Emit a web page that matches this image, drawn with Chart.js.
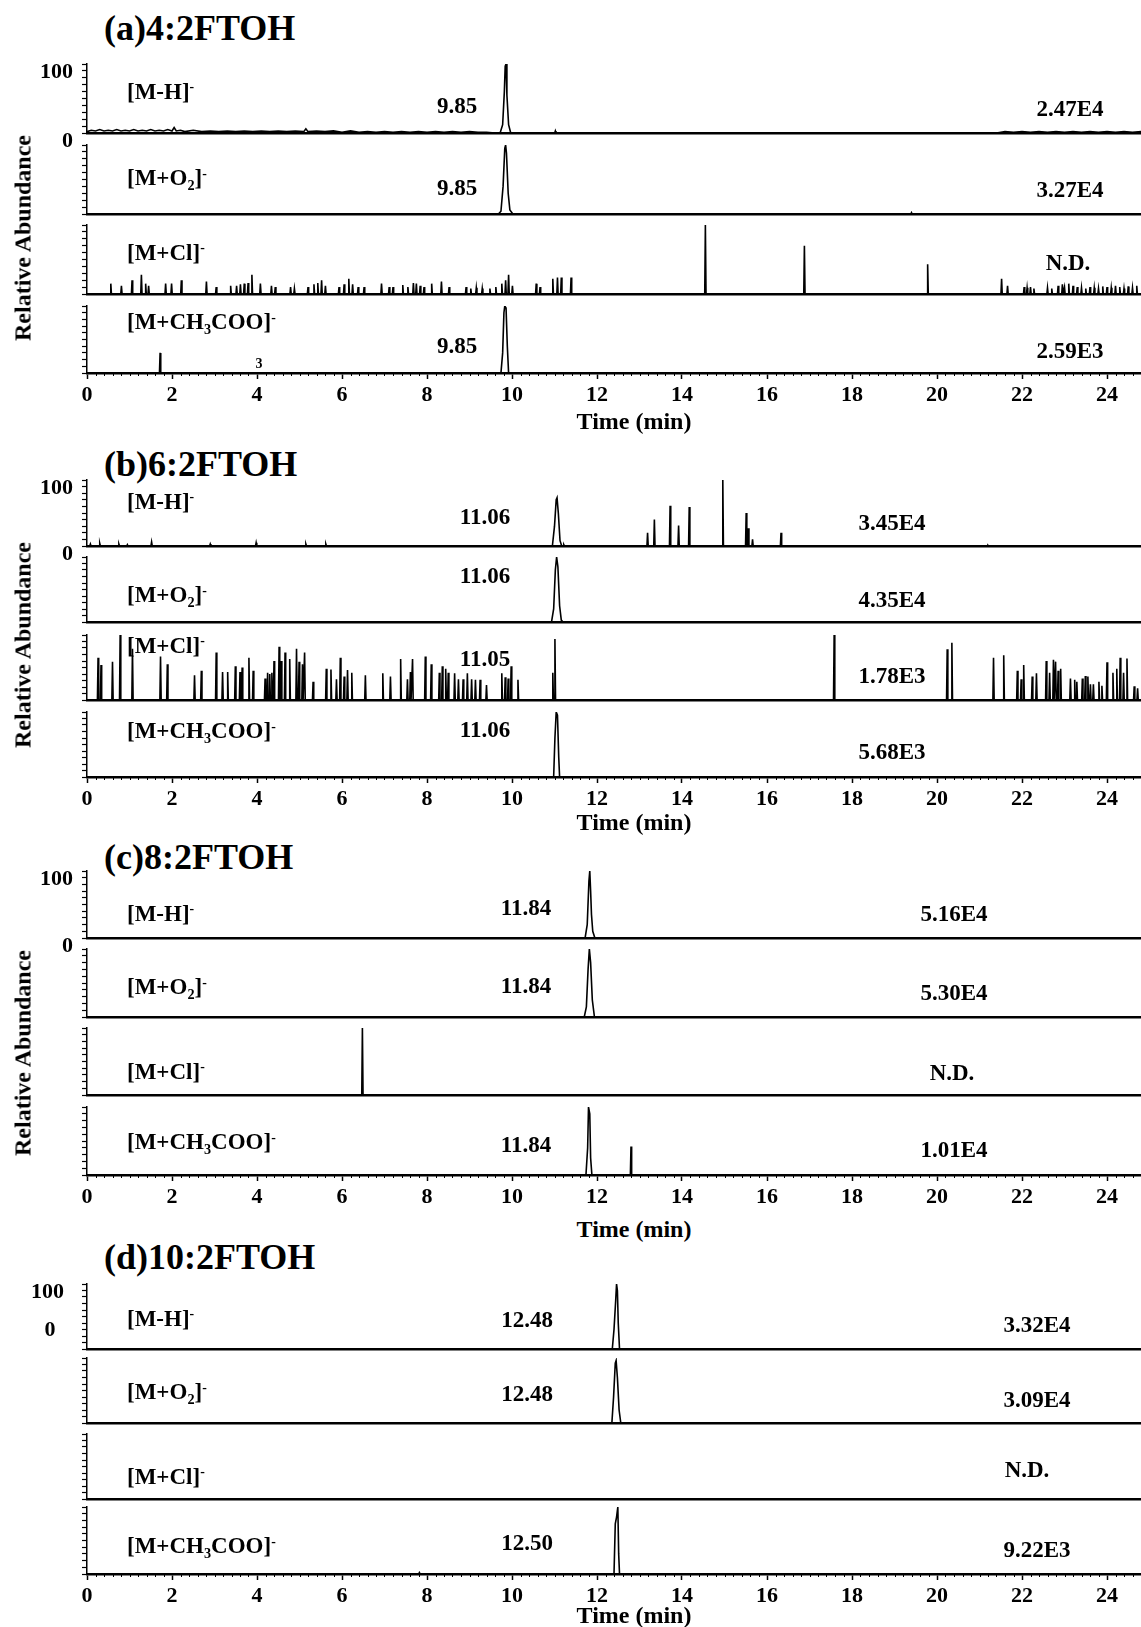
<!DOCTYPE html>
<html>
<head>
<meta charset="utf-8">
<script src="https://cdn.jsdelivr.net/npm/chart.js@4.4.0/dist/chart.umd.min.js"></script>
<style>
body{margin:0;background:#fff;width:1141px;height:1627px;position:relative;overflow:hidden;
  font-family:"Liberation Serif","Times New Roman",serif;font-weight:bold;color:#000}
canvas{position:absolute;left:0}
.t{position:absolute;white-space:nowrap;transform:translateY(-50%);font-size:23px;line-height:1}
.c{transform:translate(-50%,-50%)}
.title{font-size:36px}
.ytitle{position:absolute;white-space:nowrap;font-size:24px;transform:translate(-50%,-50%) rotate(-90deg)}
sup{font-size:60%;vertical-align:0.55em}
sub{font-size:62%;vertical-align:-0.3em}
</style>
</head>
<body>
<script>
// time axis (min)
var xMin = 0, xMax = 24.8;
var xTickValues = [0, 2, 4, 6, 8, 10, 12, 14, 16, 18, 20, 22, 24];

// ---- (a) 4:2FTOH ----  [time, rel. abundance]
var a_MH_pts = [[0,2],[0.1,4],[0.2,3],[0.3,5],[0.4,3],[0.5,4],[0.6,3],[0.7,5],[0.8,3],[0.9,4],[1.0,3],[1.1,5],
  [1.2,3],[1.3,4],[1.4,3],[1.5,5],[1.6,3],[1.7,4],[1.8,3],[1.9,5],[2.0,3],[2.05,8],[2.1,3],[2.2,4],[2.3,2],
  [2.5,4],[2.7,2],[2.9,3],[3.1,2],[3.3,3],[3.5,2],[3.7,3],[3.9,2],[4.1,3],[4.3,2],[4.5,3],[4.7,2],[4.9,3],
  [5.1,2],[5.15,6],[5.2,2],[5.4,3],[5.6,2],[5.8,3],[6.0,1],[6.2,3],[6.4,1],[6.6,2],[6.8,1],[7.0,2],[7.2,1],
  [7.4,2],[7.6,1],[7.8,2],[8.0,1],[8.2,2],[8.4,1],[8.6,2],[8.8,1],[9.0,2],[9.2,1],[9.4,1],[9.6,0],
  [9.72,0],[9.78,12],[9.82,60],[9.84,97],[9.86,100],[9.88,55],[9.92,12],[9.97,0],
  [21.4,0],[21.6,2],[21.8,1],[22.0,2],[22.2,1],[22.4,2],[22.6,1],[22.8,2],[23.0,1],[23.2,2],[23.4,1],
  [23.6,2],[23.8,1],[24.0,2],[24.2,1],[24.4,2],[24.6,1],[24.8,2]];
var a_MH_spk = [[11.02,3]];
var a_MO2_pts = [[9.68,0],[9.74,4],[9.79,40],[9.83,95],[9.85,100],[9.87,88],[9.91,30],[9.95,6],[10.02,0]];
var a_MO2_spk = [[19.4,2]];
var a_MCl_pts = [];
var a_MCl_spk = [[0.56,15],[0.81,12],[1.06,20],[1.28,28],[1.38,15],[1.45,12],[1.85,15],[1.99,15],[2.22,20],
  [2.81,18],[3.04,10],[3.38,12],[3.52,12],[3.61,14],[3.70,15],[3.79,16],[3.88,28],[4.08,15],[4.34,12],
  [4.43,10],[4.79,10],[4.88,8],[5.20,10],[5.34,14],[5.43,16],[5.52,20],[5.61,12],[5.93,10],[6.05,14],
  [6.16,22],[6.25,14],[6.38,10],[6.52,10],[6.93,15],[7.11,10],[7.20,10],[7.43,13],[7.55,10],[7.68,16],
  [7.75,15],[7.84,12],[7.93,10],[8.11,15],[8.34,18],[8.52,10],[8.92,10],[9.03,8],[9.16,9],[9.30,8],
  [9.48,8],[9.62,10],[9.76,15],[9.85,20],[9.92,28],[10.01,12],[10.57,15],[10.66,10],[10.96,22],[11.07,24],
  [11.16,24],[11.39,24],[14.55,100],[16.88,70],[19.78,43],[21.52,22],[21.66,12],[22.05,10],[22.12,9],
  [22.2,10],[22.28,8],[22.6,9],[22.7,8],[22.85,12],[22.95,14],[23.0,10],[23.1,15],[23.2,12],[23.3,10],
  [23.4,9],[23.5,8],[23.6,10],[23.7,9],[23.8,8],[23.9,11],[24.0,10],[24.1,9],[24.2,12],[24.3,10],
  [24.4,8],[24.5,11],[24.6,9],[24.7,12]];
var a_MAc_pts = [[9.74,0],[9.78,30],[9.81,90],[9.83,100],[9.86,97],[9.89,40],[9.92,0]];
var a_MAc_spk = [[1.72,30]];

// ---- (b) 6:2FTOH ----
var b_MH_pts = [[10.95,0],[11.0,30],[11.04,70],[11.06,73],[11.09,50],[11.13,8],[11.17,0]];
var b_MH_spk = [[0.08,3],[0.3,4],[0.75,3],[0.95,2],[1.52,6],[2.9,3],[3.98,5],[5.15,3],[5.62,3],[11.22,2],
  [13.19,20],[13.35,40],[13.72,61],[13.92,31],[14.17,59],[14.96,100],[15.51,50],[15.56,27],[15.66,10],
  [16.33,20],[21.2,1]];
var b_MO2_pts = [[10.93,0],[10.98,20],[11.02,80],[11.05,100],[11.08,85],[11.12,25],[11.16,3],[11.2,0]];
var b_MO2_spk = [];
var b_MCl_pts = [];
var b_MCl_spk = [[0.26,65],[0.33,54],[0.60,59],[0.78,100],[1.07,79],[1.73,67],[1.89,55],[2.53,38],[2.69,45],
  [3.04,73],[3.19,43],[3.31,43],[3.49,52],[3.60,43],[3.65,50],[3.81,65],[3.91,45],[4.19,33],[4.25,42],
  [4.30,40],[4.35,42],[4.40,60],[4.52,82],[4.57,60],[4.66,73],[4.77,63],[4.93,79],[4.99,59],[5.07,55],
  [5.12,73],[5.32,28],[5.63,48],[5.74,47],[5.87,32],[5.96,65],[6.05,36],[6.13,46],[6.23,42],[6.55,38],
  [6.96,41],[7.14,36],[7.38,63],[7.54,32],[7.61,43],[7.66,63],[7.96,67],[8.10,55],[8.29,42],[8.36,52],
  [8.44,48],[8.50,42],[8.65,41],[8.74,32],[8.85,32],[8.95,41],[9.05,32],[9.14,31],[9.25,31],[9.40,23],
  [9.76,41],[9.84,35],[9.91,33],[9.98,52],[10.14,31],[10.96,42],[11.01,94],[17.58,100],[20.24,78],
  [20.35,88],[21.33,65],[21.57,69],[21.89,45],[21.98,32],[22.04,54],[22.24,36],[22.34,41],[22.57,60],
  [22.65,42],[22.74,62],[22.79,59],[22.85,45],[22.91,48],[23.14,33],[23.24,31],[23.29,28],[23.42,33],
  [23.49,37],[23.55,36],[23.61,24],[23.68,24],[23.81,28],[23.88,22],[24.00,58],[24.14,42],[24.23,48],
  [24.31,65],[24.39,42],[24.47,64],[24.64,21],[24.72,18]];
var b_MAc_pts = [[10.98,0],[11.01,60],[11.04,100],[11.07,95],[11.1,30],[11.12,0]];
var b_MAc_spk = [];

// ---- (c) 8:2FTOH ----
var c_MH_pts = [[11.72,0],[11.77,20],[11.81,85],[11.83,100],[11.85,70],[11.87,35],[11.9,10],[11.95,0]];
var c_MH_spk = [];
var c_MO2_pts = [[11.7,0],[11.75,15],[11.79,70],[11.82,100],[11.85,80],[11.89,25],[11.94,0]];
var c_MO2_spk = [];
var c_MCl_pts = [];
var c_MCl_spk = [[6.48,100]];
var c_MAc_pts = [[11.74,0],[11.78,40],[11.8,100],[11.83,90],[11.85,25],[11.88,0]];
var c_MAc_spk = [[12.8,42]];

// ---- (d) 10:2FTOH ----
var d_MH_pts = [[12.36,0],[12.4,30],[12.44,75],[12.46,100],[12.48,90],[12.5,40],[12.53,0]];
var d_MH_spk = [];
var d_MO2_pts = [[12.35,0],[12.39,40],[12.43,92],[12.45,96],[12.48,70],[12.52,20],[12.56,0]];
var d_MO2_spk = [];
var d_MCl_pts = [];
var d_MCl_spk = [];
var d_MAc_pts = [[12.4,0],[12.43,75],[12.46,85],[12.49,100],[12.51,30],[12.53,0]];
var d_MAc_spk = [[7.82,2]];

// text
var ionNames = ['[M-H]<sup>-</sup>','[M+O<sub>2</sub>]<sup>-</sup>','[M+Cl]<sup>-</sup>','[M+CH<sub>3</sub>COO]<sup>-</sup>'];
var a_rt = ['9.85','9.85','','9.85'],   a_int = ['2.47E4','3.27E4','N.D.','2.59E3'];
var b_rt = ['11.06','11.06','11.05','11.06'], b_int = ['3.45E4','4.35E4','1.78E3','5.68E3'];
var c_rt = ['11.84','11.84','','11.84'], c_int = ['5.16E4','5.30E4','N.D.','1.01E4'];
var d_rt = ['12.48','12.48','','12.50'], d_int = ['3.32E4','3.09E4','N.D.','9.22E3'];

var panels = [
  {title:'(a)4:2FTOH', titleY:28, tops:[64,145,225,306], bases:[133,214,294,373],
   ionY:[91,179,252,323], rtX:457, rtY:[105,187,0,345], intX:1070, ndX:1068, intY:[108,189,262,350],
   yTitleY:238, timeY:421, labPad:9, zeroTick:true,
   traces:[[a_MH_pts,a_MH_spk],[a_MO2_pts,a_MO2_spk],[a_MCl_pts,a_MCl_spk],[a_MAc_pts,a_MAc_spk]], rt:a_rt, inten:a_int},
  {title:'(b)6:2FTOH', titleY:464, tops:[480,557,635,712], bases:[546,622,700,777],
   ionY:[501,596,645,732], rtX:485, rtY:[516,575,658,729], intX:892, ndX:892, intY:[522,599,675,751],
   yTitleY:645, timeY:822, labPad:9, zeroTick:true,
   traces:[[b_MH_pts,b_MH_spk],[b_MO2_pts,b_MO2_spk],[b_MCl_pts,b_MCl_spk],[b_MAc_pts,b_MAc_spk]], rt:b_rt, inten:b_int},
  {title:'(c)8:2FTOH', titleY:857, tops:[871,949,1028,1107], bases:[938,1017,1095,1175],
   ionY:[913,988,1071,1143], rtX:526, rtY:[907,985,0,1144], intX:954, ndX:952, intY:[913,992,1072,1149],
   yTitleY:1053, timeY:1229, labPad:9, zeroTick:true,
   traces:[[c_MH_pts,c_MH_spk],[c_MO2_pts,c_MO2_spk],[c_MCl_pts,c_MCl_spk],[c_MAc_pts,c_MAc_spk]], rt:c_rt, inten:c_int},
  {title:'(d)10:2FTOH', titleY:1257, tops:[1284,1358,1434,1507], bases:[1349,1423,1499,1574],
   ionY:[1318,1393,1476,1547], rtX:527, rtY:[1319,1393,0,1542], intX:1037, ndX:1027, intY:[1324,1399,1469,1549],
   yTitleY:0, timeY:1615, labPad:18, zeroTick:false,
   traces:[[d_MH_pts,d_MH_spk],[d_MO2_pts,d_MO2_spk],[d_MCl_pts,d_MCl_spk],[d_MAc_pts,d_MAc_spk]], rt:d_rt, inten:d_int}
];

var fontTick = {family:'"Liberation Serif", "Times New Roman", serif', size:22, weight:'bold'};

function addText(html, x, y, cls, size) {
  var el = document.createElement('div');
  el.className = 't' + (cls ? ' ' + cls : '');
  el.innerHTML = html;
  el.style.left = x + 'px';
  el.style.top = y + 'px';
  if (size) el.style.fontSize = size + 'px';
  document.body.appendChild(el);
}

function buildPoints(pts, spk) {
  var out = [{x:xMin, y:0}];
  pts.forEach(function(p){ out.push({x:p[0], y:p[1]}); });
  spk.forEach(function(s){
    out.push({x:s[0]-0.015, y:0}); out.push({x:s[0], y:s[1]}); out.push({x:s[0]+0.015, y:0});
  });
  out.push({x:xMax, y:0});
  out.sort(function(a,b){ return a.x - b.x; });
  return out;
}

var minorTicks = {
  id: 'minorTicks',
  afterDraw: function(chart) {
    var sc = chart.scales.x, ctx = chart.ctx, yb = chart.chartArea.bottom;
    ctx.save();
    ctx.strokeStyle = '#000';
    ctx.lineWidth = 1;
    for (var i = 0; i <= 124; i++) {
      if (i % 10 === 0) continue;
      var px = Math.round(sc.getPixelForValue(i / 5)) + 0.5;
      ctx.beginPath(); ctx.moveTo(px, yb); ctx.lineTo(px, yb + 3); ctx.stroke();
    }
    ctx.restore();
  }
};

function makeTrace(p, k) {
  var padTop = 6;
  var bottom = (k === 3), first = (k === 0);
  // room under the top trace for its "0" label, room under the bottom one for the time ticks
  var axisH = bottom ? 36 : (first ? 22 : 2);
  var h = p.bases[k] - p.tops[k] + padTop + axisH;
  var cv = document.createElement('canvas');
  cv.width = 1141; cv.height = h;
  cv.style.width = '1141px'; cv.style.height = h + 'px';
  cv.style.top = (p.tops[k] - padTop) + 'px';
  document.body.appendChild(cv);
  var tr = p.traces[k];
  new Chart(cv.getContext('2d'), {
    type: 'line',
    data: {datasets: [{data: buildPoints(tr[0], tr[1]), borderColor: '#000', borderWidth: 1.6,
      pointRadius: 0, tension: 0, fill: false}]},
    options: {
      responsive: false, animation: false, devicePixelRatio: 1, events: [],
      layout: {padding: {top: padTop, left: 0, right: 0, bottom: 0}},
      plugins: {legend: {display: false}, tooltip: {enabled: false}},
      scales: {
        x: {
          type: 'linear', min: xMin, max: xMax,
          afterFit: function(s){ s.height = axisH; s.paddingLeft = 0; s.paddingRight = 0; },
          afterBuildTicks: function(s){ s.ticks = xTickValues.map(function(v){ return {value: v}; }); },
          border: {color: '#000', width: 2.5},
          grid: {drawOnChartArea: false, drawTicks: bottom, tickLength: 6, tickColor: '#000', tickWidth: 1.5},
          ticks: {display: bottom, autoSkip: false, maxRotation: 0, color: '#000', font: fontTick, padding: 3}
        },
        y: {
          min: 0, max: 100,
          afterFit: function(s){ s.width = 87; s.paddingTop = 0; s.paddingBottom = 0; },
          border: {color: '#000', width: 1.5},
          grid: {drawOnChartArea: false, tickLength: 5, tickColor: '#000', tickWidth: 1.2},
          ticks: {display: first, stepSize: 10, autoSkip: false, color: '#000', font: fontTick,
            padding: p.labPad, labelOffset: 8,
            callback: function(v){
              if (v === 100) return '100';
              if (v === 0 && p.zeroTick) return '0';
              return '';
            }}
        }
      }
    },
    plugins: bottom ? [minorTicks] : []
  });
}

panels.forEach(function(p){
  addText(p.title, 104, p.titleY, 'title');
  for (var k = 0; k < 4; k++) {
    makeTrace(p, k);
    addText(ionNames[k], 127, p.ionY[k]);
    if (p.rt[k]) addText(p.rt[k], p.rtX, p.rtY[k], 'c');
    addText(p.inten[k], p.inten[k] === 'N.D.' ? p.ndX : p.intX, p.intY[k], 'c');
  }
  if (p.yTitleY) {
    var yt = document.createElement('div');
    yt.className = 'ytitle';
    yt.textContent = 'Relative Abundance';
    yt.style.left = '23px'; yt.style.top = p.yTitleY + 'px';
    document.body.appendChild(yt);
  }
  addText('Time (min)', 634, p.timeY, 'c', 24);
});
// loose labels
addText('0', 50, 1329, 'c', 22);
addText('3', 259, 364, 'c', 14);
</script>
</body>
</html>
